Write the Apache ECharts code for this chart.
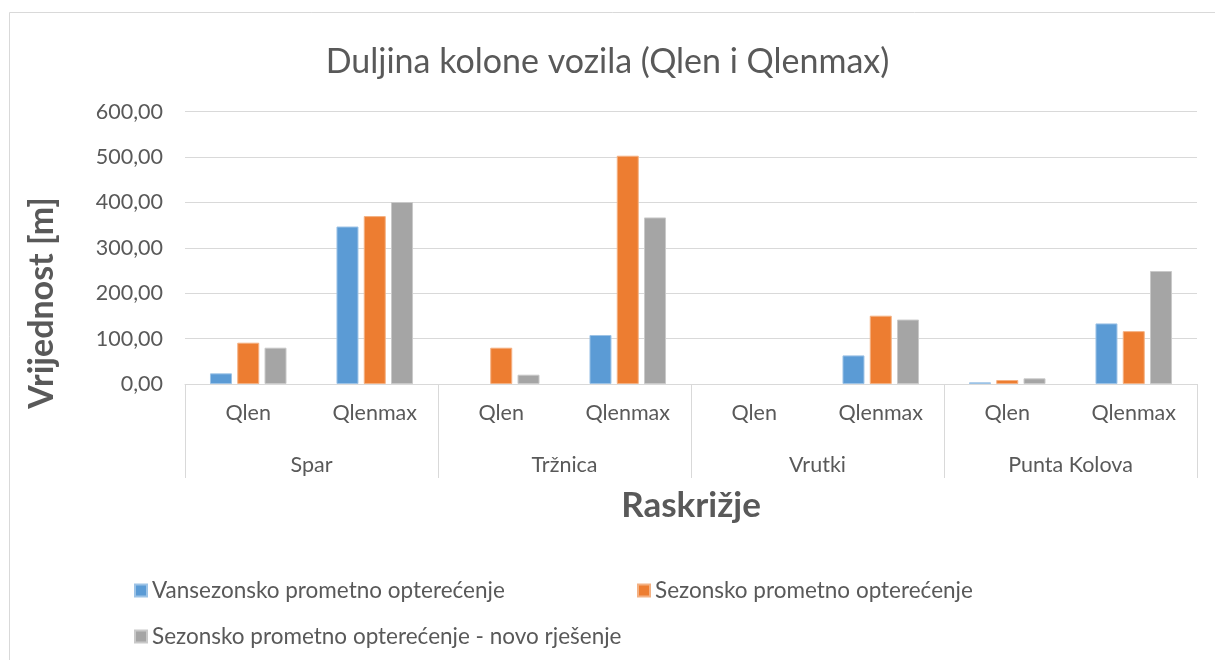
<!DOCTYPE html>
<html>
<head>
<meta charset="utf-8">
<script src="https://cdn.jsdelivr.net/npm/echarts@6/dist/echarts.min.js"></script>
<style>
html,body{margin:0;padding:0;background:#fff;}
#c{width:1215px;height:660px;}
</style>
</head>
<body>
<div id="c"></div>
<script>
const groups = ['Spar', 'Tržnica', 'Vrutki', 'Punta Kolova'];
const subCats = ['Qlen', 'Qlenmax', 'Qlen', 'Qlenmax', 'Qlen', 'Qlenmax', 'Qlen', 'Qlenmax'];
const seriesNames = ['Vansezonsko prometno opterećenje', 'Sezonsko prometno opterećenje', 'Sezonsko prometno opterećenje - novo rješenje'];
const vansezonsko = [23.5, 347, 0, 108, 0, 63, 3.7, 133.5];
const sezonsko = [91, 370, 80, 503, 0, 150.5, 8.8, 116.5];
const novoRjesenje = [80, 401, 20.5, 367, 0, 142, 12.5, 249];
const yTicks = [0, 100, 200, 300, 400, 500, 600];
const colors = ['#5B9BD5', '#ED7D31', '#A5A5A5'];
const borderColors = ['#9dc3e6', '#f4b183', '#c9c9c9'];

const FONT = 'Lato';
const TXT = '#595959';
const chart = echarts.init(document.getElementById('c'));
const values = [vansezonsko, sezonsko, novoRjesenje];

const fmt = v => v.toFixed(2).replace('.', ',');

chart.setOption({
  animation: false,
  backgroundColor: '#fff',
  textStyle: { fontFamily: FONT },
  title: {
    text: 'Duljina kolone vozila (Qlen i Qlenmax)',
    left: 'center', top: 40,
    textStyle: { fontFamily: FONT, fontSize: 34, fontWeight: 'normal', color: TXT }
  },
  graphic: [{
    type: 'rect', shape: { x: 9.5, y: 12.5, width: 1230, height: 700 },
    style: { fill: 'none', stroke: '#d9d9d9', lineWidth: 1 }, silent: true, z: -1
  }],
  legend: seriesNames.map((n, i) => ({
    data: [n],
    left: [129, 632, 129][i],
    top: [574, 574, 620][i],
    itemWidth: 12, itemHeight: 12, itemGap: 8,
    icon: 'rect',
    textStyle: { fontFamily: FONT, fontSize: 22.5, color: TXT }
  })),
  grid: { left: 185, right: 18, top: 111.7, bottom: 276 },
  xAxis: [{
    type: 'category', data: subCats, position: 'bottom',
    axisLine: { lineStyle: { color: '#d9d9d9', width: 1 } },
    axisTick: { show: false },
    axisLabel: { interval: 0, margin: 18, fontFamily: FONT, fontSize: 21.5, color: TXT }
  }, {
    type: 'category', data: groups, position: 'bottom',
    axisLine: { show: false },
    axisTick: { show: true, length: 94, interval: 0, lineStyle: { color: '#d9d9d9' } },
    axisLabel: { interval: 0, margin: 70, fontFamily: FONT, fontSize: 21.5, color: TXT },
    name: 'Raskrižje', nameLocation: 'middle', nameGap: 104,
    nameTextStyle: { fontFamily: FONT, fontSize: 35, fontWeight: 'bold', color: TXT }
  }],
  yAxis: {
    type: 'value', min: 0, max: 600, interval: 100,
    axisLine: { show: false }, axisTick: { show: false },
    splitLine: { lineStyle: { color: '#d9d9d9', width: 1 } },
    axisLabel: { margin: 22, fontFamily: FONT, fontSize: 21.5, color: TXT, formatter: fmt },
    name: 'Vrijednost [m]', nameLocation: 'middle', nameGap: 126,
    nameTextStyle: { fontFamily: FONT, fontSize: 34, fontWeight: 'bold', color: TXT, padding: [0, 110, 0, 0] }
  },
  series: seriesNames.map((n, i) => ({
    name: n, type: 'bar', xAxisIndex: 0,
    data: values[i].map(v => v === 0 ? { value: v, itemStyle: { borderWidth: 0 } } : v),
    barWidth: 22, barGap: '24%',
    itemStyle: { color: colors[i], borderColor: borderColors[i], borderWidth: 1 }
  }))
});
</script>
</body>
</html>
